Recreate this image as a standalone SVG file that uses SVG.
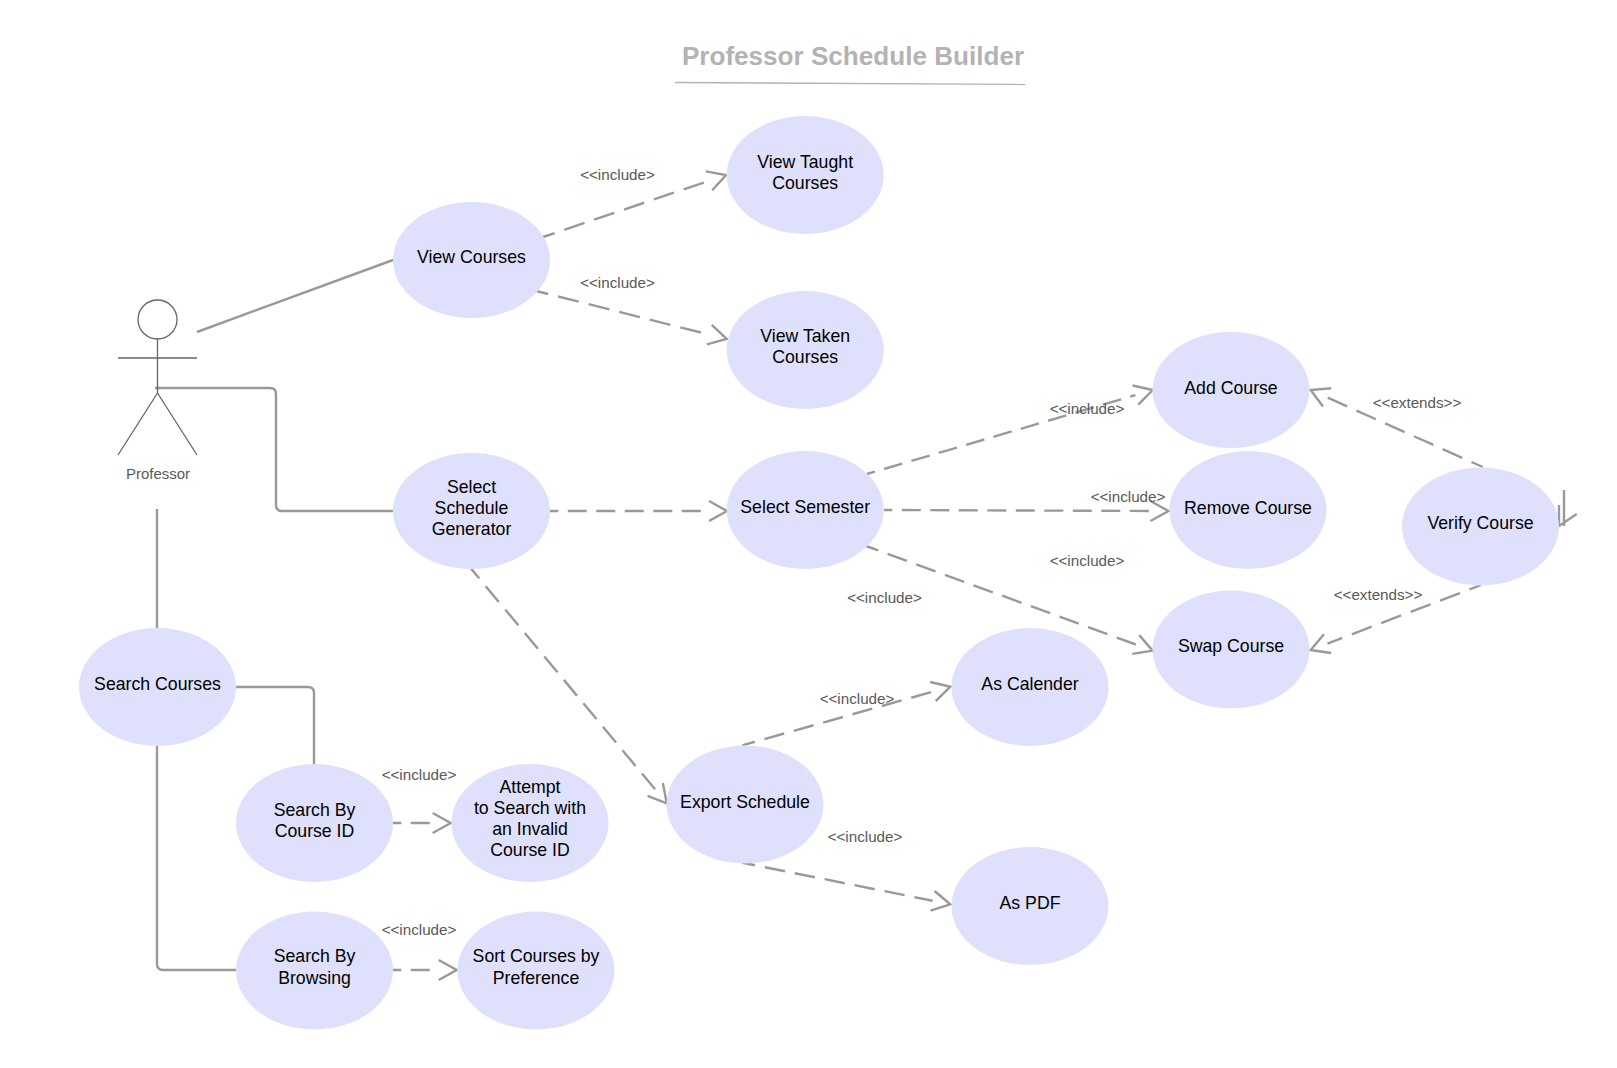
<svg xmlns="http://www.w3.org/2000/svg" width="1617" height="1068" viewBox="0 0 1617 1068">
<style>
text{font-family:"Liberation Sans",Arial,sans-serif;text-anchor:middle}
.n{fill:#dfe0fc}
.t{font-size:17.7px;fill:#000}
.l{font-size:15.2px;fill:#595959}
.c{fill:none;stroke:#999;stroke-width:2.4}
.d{stroke-dasharray:19 9.5;stroke-dashoffset:10.7}
.e{stroke-dasharray:20.5 10;stroke-dashoffset:7.5}
.f{stroke-dasharray:21.3 10.2;stroke-dashoffset:9}
.h{fill:none;stroke:#999;stroke-width:2.4}
.a{fill:none;stroke:#666;stroke-width:1.3}
</style>
<defs><marker id="ar" markerUnits="userSpaceOnUse" markerWidth="24" markerHeight="24" refX="2" refY="12" orient="auto"><path class="h" d="M2 2 L20 12 L2 22"/></marker></defs>
<rect width="1617" height="1068" fill="#fff"/>
<g id="title"><text x="853" y="65" style="font-size:26.1px;font-weight:bold;fill:#b3b3b3">Professor Schedule Builder</text><path d="M675 82.500 L1025 84.500" fill="none" stroke="#b3b3b3" stroke-width="1.300"/></g>
<g id="connectors">
<path class="c" d="M197 332 L393 260"/>
<path class="c" d="M155 388 H270 Q276 388 276 394 V505 Q276 511 282 511 H393"/>
<path class="c" d="M157 509 V628"/>
<path class="c" d="M236 687 H308 Q314 687 314 693 V764"/>
<path class="c" d="M157 745 V964 Q157 970 163 970 H236"/>
<path class="c f" marker-end="url(#ar)" d="M543 237 L709 180.800"/>
<path class="c f" marker-end="url(#ar)" d="M536.300 291 L709.300 334.600"/>
<path class="c d" marker-end="url(#ar)" d="M550 511 H709"/>
<path class="c e" marker-end="url(#ar)" d="M471 568.500 L655.200 789.500"/>
<path class="c d" marker-end="url(#ar)" d="M867 474 L1135.400 395.100"/>
<path class="c d" marker-end="url(#ar)" d="M884 510 L1150.500 511"/>
<path class="c e" marker-end="url(#ar)" d="M866 546 L1135.800 644.500"/>
<path class="c f" marker-end="url(#ar)" d="M1482.700 467 L1327.100 397.400"/>
<path class="c f" marker-end="url(#ar)" d="M1481 585 L1327.500 643.600"/>
<path class="c e" marker-end="url(#ar)" d="M742.300 745.300 L933 691.600"/>
<path class="c e" marker-end="url(#ar)" d="M742.300 862.700 L932.600 900.800"/>
<path class="c d" marker-end="url(#ar)" d="M393 823 H432.700"/>
<path class="c d" marker-end="url(#ar)" d="M393 970 H438.700"/>
<path class="c" d="M1564 490 V526 M1559 505 V526 L1576.700 514"/>
</g>
<g id="professor"><circle class="a" cx="157.500" cy="319.500" r="19.500" style="fill:#fff"/><path class="a" d="M157.500 339 V393 M118 358 H197 M157.500 393 L118 455 M157.500 393 L197 455"/><text x="158" y="479" style="font-size:15px;fill:#595959">Professor</text></g>
<g id="viewTaught"><ellipse class="n" cx="805.200" cy="175" rx="78.500" ry="59"/><text class="t" x="805.200" y="167.500">View Taught</text><text class="t" x="805.200" y="189">Courses</text></g>
<g id="viewCourses"><ellipse class="n" cx="471.500" cy="260" rx="78.500" ry="58"/><text class="t" x="471.500" y="263">View Courses</text></g>
<g id="viewTaken"><ellipse class="n" cx="805.200" cy="350" rx="78.500" ry="59"/><text class="t" x="805.200" y="342">View Taken</text><text class="t" x="805.200" y="363">Courses</text></g>
<g id="addCourse"><ellipse class="n" cx="1231" cy="390" rx="78.500" ry="58"/><text class="t" x="1231" y="394">Add Course</text></g>
<g id="scheduleGen"><ellipse class="n" cx="471.500" cy="511" rx="78.500" ry="58"/><text class="t" x="471.500" y="493">Select</text><text class="t" x="471.500" y="514">Schedule</text><text class="t" x="471.500" y="535">Generator</text></g>
<g id="selectSemester"><ellipse class="n" cx="805.200" cy="510" rx="78.500" ry="59"/><text class="t" x="805.200" y="513">Select Semester</text></g>
<g id="removeCourse"><ellipse class="n" cx="1248" cy="510" rx="78.500" ry="59"/><text class="t" x="1248" y="514">Remove Course</text></g>
<g id="verifyCourse"><ellipse class="n" cx="1480.500" cy="526.500" rx="78.500" ry="59"/><text class="t" x="1480.500" y="529">Verify Course</text></g>
<g id="swapCourse"><ellipse class="n" cx="1231" cy="649.500" rx="78.500" ry="59"/><text class="t" x="1231" y="652">Swap Course</text></g>
<g id="searchCourses"><ellipse class="n" cx="157.500" cy="687" rx="78.500" ry="59"/><text class="t" x="157.500" y="690">Search Courses</text></g>
<g id="asCalender"><ellipse class="n" cx="1030" cy="687" rx="78.500" ry="59"/><text class="t" x="1030" y="690">As Calender</text></g>
<g id="searchById"><ellipse class="n" cx="314.500" cy="823" rx="78.500" ry="59"/><text class="t" x="314.500" y="815.500">Search By</text><text class="t" x="314.500" y="837">Course ID</text></g>
<g id="attempt"><ellipse class="n" cx="530" cy="823" rx="78.500" ry="59"/><text class="t" x="530" y="793">Attempt</text><text class="t" x="530" y="814">to Search with</text><text class="t" x="530" y="835">an Invalid</text><text class="t" x="530" y="856">Course ID</text></g>
<g id="exportSchedule"><ellipse class="n" cx="745" cy="804.500" rx="78.500" ry="59"/><text class="t" x="745" y="807.500">Export Schedule</text></g>
<g id="asPdf"><ellipse class="n" cx="1030" cy="906" rx="78.500" ry="59"/><text class="t" x="1030" y="909">As PDF</text></g>
<g id="searchByBrowsing"><ellipse class="n" cx="314.500" cy="970.500" rx="78.500" ry="59"/><text class="t" x="314.500" y="962">Search By</text><text class="t" x="314.500" y="984">Browsing</text></g>
<g id="sortCourses"><ellipse class="n" cx="536" cy="970.500" rx="78.500" ry="59"/><text class="t" x="536" y="962">Sort Courses by</text><text class="t" x="536" y="984">Preference</text></g>
<g id="labels">
<text class="l" x="617.500" y="180">&lt;&lt;include&gt;</text>
<text class="l" x="617.500" y="288">&lt;&lt;include&gt;</text>
<text class="l" x="1087" y="414">&lt;&lt;include&gt;</text>
<text class="l" x="1128" y="502">&lt;&lt;include&gt;</text>
<text class="l" x="1087" y="566">&lt;&lt;include&gt;</text>
<text class="l" x="884.500" y="603">&lt;&lt;include&gt;</text>
<text class="l" x="857" y="704">&lt;&lt;include&gt;</text>
<text class="l" x="865" y="842">&lt;&lt;include&gt;</text>
<text class="l" x="419" y="780">&lt;&lt;include&gt;</text>
<text class="l" x="419" y="935">&lt;&lt;include&gt;</text>
<text class="l" x="1417" y="408">&lt;&lt;extends&gt;&gt;</text>
<text class="l" x="1378" y="600">&lt;&lt;extends&gt;&gt;</text>
</g>
</svg>
